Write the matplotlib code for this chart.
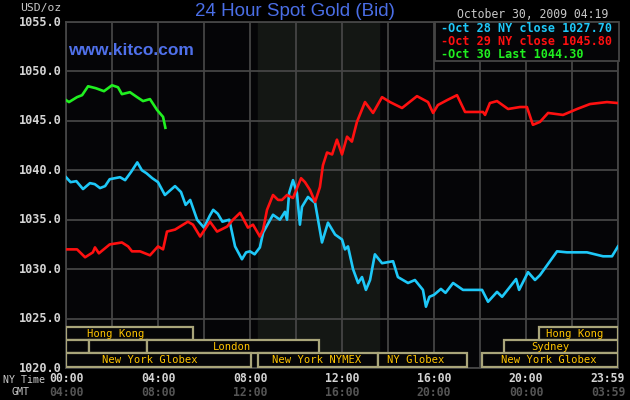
import matplotlib
matplotlib.use("Agg")
import matplotlib.pyplot as plt
from matplotlib.patches import Rectangle

# ---------------- data ----------------
oct28_hours = [0.0, 0.2, 0.45, 0.74, 1.04, 1.25, 1.48, 1.7, 1.9, 2.35, 2.57, 2.85, 3.1, 3.3, 3.5,
               3.75, 4.0, 4.3, 4.74, 5.0, 5.2, 5.4, 5.7, 6.0, 6.25, 6.4, 6.6, 6.8, 7.1, 7.35,
               7.65, 7.83, 8.0, 8.2, 8.43, 8.57, 9.0, 9.3, 9.52, 9.61, 9.7, 9.87, 10.04, 10.17,
               10.26, 10.52, 10.83, 11.13, 11.39, 11.7, 12.0, 12.13, 12.26, 12.48, 12.7, 12.87,
               13.04, 13.22, 13.43, 13.74, 14.22, 14.43, 14.87, 15.17, 15.52, 15.65, 15.8, 16.0,
               16.3, 16.5, 16.83, 17.26, 18.09, 18.35, 18.74, 18.96, 19.3, 19.57, 19.7, 20.09,
               20.39, 20.61, 21.35, 21.78, 22.04, 22.65, 23.35, 23.74, 24.0]
oct28_price = [1039.3, 1038.8, 1038.9, 1038.1, 1038.7, 1038.6, 1038.2, 1038.4, 1039.1, 1039.3,
               1039.0, 1039.9, 1040.8, 1040.0, 1039.7, 1039.2, 1038.8, 1037.5, 1038.4, 1037.8,
               1036.5, 1037.0, 1035.0, 1034.2, 1035.4, 1036.0, 1035.6, 1034.8, 1035.0, 1032.3,
               1031.0, 1031.7, 1031.8, 1031.5, 1032.2, 1033.7, 1035.5, 1035.0, 1035.8, 1035.0,
               1037.7, 1039.0, 1037.7, 1034.5, 1036.3, 1037.3, 1036.7, 1032.7, 1034.7, 1033.5,
               1033.0, 1032.0, 1032.3, 1030.0, 1028.6, 1029.2, 1027.9, 1028.9, 1031.5, 1030.6,
               1030.8, 1029.2, 1028.6, 1028.9, 1027.9, 1026.2, 1027.2, 1027.4, 1028.0, 1027.6,
               1028.6, 1027.9, 1027.9, 1026.7, 1027.7, 1027.2, 1028.2, 1029.0, 1027.9, 1029.7,
               1028.9, 1029.4, 1031.8, 1031.7, 1031.7, 1031.7, 1031.3, 1031.3, 1032.3]

oct29_hours = [0.0, 0.48, 0.83, 1.17, 1.26, 1.43, 1.9, 2.43, 2.7, 2.87, 3.22, 3.65, 4.0, 4.22,
               4.39, 4.74, 5.3, 5.52, 5.83, 6.26, 6.57, 7.0, 7.26, 7.57, 7.91, 8.13, 8.43, 8.57,
               8.74, 9.0, 9.22, 9.39, 9.61, 9.87, 10.22, 10.39, 10.61, 10.83, 11.04, 11.17, 11.35,
               11.57, 11.78, 12.0, 12.22, 12.43, 12.65, 13.0, 13.35, 13.74, 14.09, 14.61, 15.26,
               15.74, 15.96, 16.17, 16.57, 17.0, 17.35, 18.13, 18.22, 18.43, 18.74, 19.22, 19.74,
               20.04, 20.3, 20.61, 20.96, 21.61, 22.22, 22.78, 23.52, 24.0]
oct29_price = [1032.0, 1032.0, 1031.2, 1031.7, 1032.2, 1031.6, 1032.5, 1032.7, 1032.3, 1031.8,
               1031.8, 1031.4, 1032.3, 1032.0, 1033.8, 1034.0, 1034.8, 1034.5, 1033.3, 1034.8,
               1033.8, 1034.3, 1035.0, 1035.7, 1034.2, 1034.5, 1033.3, 1034.0, 1036.0, 1037.5,
               1037.0, 1037.0, 1037.5, 1037.2, 1039.2, 1038.8, 1038.0, 1036.8, 1038.3, 1040.5,
               1041.8, 1041.6, 1043.1, 1041.6, 1043.4, 1042.9, 1044.9, 1046.9, 1045.8, 1047.4,
               1046.9, 1046.3, 1047.5, 1046.9, 1045.8, 1046.6, 1047.1, 1047.6, 1045.9, 1045.9,
               1045.6, 1046.8, 1047.0, 1046.2, 1046.4, 1046.4, 1044.6, 1044.9, 1045.8, 1045.6,
               1046.2, 1046.7, 1046.9, 1046.8]

oct30_hours = [0.0, 0.13, 0.48, 0.7, 0.96, 1.3, 1.65, 2.0, 2.26, 2.43, 2.78, 3.09, 3.35, 3.65,
               3.96, 4.22, 4.32]
oct30_price = [1047.1, 1046.9, 1047.4, 1047.6, 1048.5, 1048.3, 1048.0, 1048.6, 1048.4, 1047.7,
               1047.9, 1047.4, 1047.0, 1047.2, 1046.1, 1045.4, 1044.3]

series_labels = ["-Oct 28 NY close 1027.70", "-Oct 29 NY close 1045.80", "-Oct 30 Last 1044.30"]

y_ticks = [1020.0, 1025.0, 1030.0, 1035.0, 1040.0, 1045.0, 1050.0, 1055.0]
x_ticks = [0, 4, 8, 12, 16, 20, 24]
ny_tick_labels = ["00:00", "04:00", "08:00", "12:00", "16:00", "20:00", "23:59"]
gmt_tick_labels = ["04:00", "08:00", "12:00", "16:00", "20:00", "00:00", "03:59"]

# market sessions: (row, start hour, end hour, label, label hour)
sessions = [
    (0, 0.0, 5.52, "Hong Kong", 2.15),
    (0, 20.57, 24.0, "Hong Kong", 22.1),
    (1, 0.0, 1.0, "", 0),
    (1, 1.0, 3.52, "", 0),
    (1, 3.52, 11.0, "London", 7.2),
    (1, 19.04, 24.0, "Sydney", 21.05),
    (2, 0.0, 8.04, "New York Globex", 3.65),
    (2, 8.35, 13.57, "New York NYMEX", 10.9),
    (2, 13.57, 17.43, "NY Globex", 15.2),
    (2, 18.09, 24.0, "New York Globex", 21.0),
]
nymex_start, nymex_end = 8.33, 13.6

# ---------------- figure ----------------
W, H = 630, 400
fig = plt.figure(figsize=(W / 100, H / 100), dpi=100, facecolor="black")


def fx(px):
    return px / W


def fy(py):
    return 1 - py / H


L, R, T, B = 66, 618, 22, 368
ax = fig.add_axes([fx(L), fy(B), fx(R) - fx(L), fy(T) - fy(B)])
ax.set_facecolor("#050507")
ax.set_xlim(0, 24)
ax.set_ylim(1020, 1055)

grid_c = "#454545"
for h in range(0, 25, 2):
    ax.axvline(h, color=grid_c, lw=1.3, zorder=1)
for v in y_ticks:
    ax.axhline(v, color=grid_c, lw=1.3, zorder=1)
ax.axvspan(nymex_start, nymex_end, color="#141714", zorder=0.5)

for s in ax.spines.values():
    s.set_color(grid_c)
    s.set_linewidth(1.3)
ax.set_xticks([])
ax.set_yticks([])

mono = "DejaVu Sans Mono"

# sessions
row_bounds = [(1022.8, 1024.15), (1021.5, 1022.8), (1020.15, 1021.5)]
box_c = "#a9a57a"
txt_c = "#ffc400"
for row, h0, h1, lab, lh in sessions:
    y0, y1 = row_bounds[row]
    ax.add_patch(Rectangle((h0, y0), h1 - h0, y1 - y0, facecolor="#050507",
                           edgecolor=box_c, lw=1.6, zorder=3))
    if lab:
        ax.text(lh, (y0 + y1) / 2 - 0.05, lab, color=txt_c, fontsize=7.6, family=mono,
                ha="center", va="center", zorder=4)

# lines
c_cyan, c_red, c_green = "#1ec8f8", "#ff1010", "#20f020"
ax.plot(oct28_hours, oct28_price, color=c_cyan, lw=1.9, zorder=5)
ax.plot(oct29_hours, oct29_price, color=c_red, lw=1.9, zorder=5)
ax.plot(oct30_hours, oct30_price, color=c_green, lw=1.9, zorder=5)

# legend box
fig.patches.append(Rectangle((fx(435), fy(61)), fx(619) - fx(435), fy(22) - fy(61),
                             transform=fig.transFigure, facecolor="#050507",
                             edgecolor=grid_c, lw=1.3, zorder=10))
for lab, col, py in zip(series_labels, [c_cyan, c_red, c_green], [29, 41.5, 54]):
    fig.text(fx(441), fy(py), lab, color=col, fontsize=8.5, family=mono, weight="bold",
             ha="left", va="center", zorder=11)

# y tick labels
for v in y_ticks:
    py = B - (v - 1020) / 35 * (B - T)
    fig.text(fx(62), fy(py), f"{v:.1f}", color="#d4d4d4", fontsize=8.6, family=mono,
             weight="bold", ha="right", va="center")
fig.text(fx(41), fy(8), "USD/oz", color="#c8c8c8", fontsize=8.2, family=mono,
         ha="center", va="center")

# x tick labels
for h, ny, gmt in zip(x_ticks, ny_tick_labels, gmt_tick_labels):
    px = L + h / 24 * (R - L)
    if h == 24:
        px = 608
    fig.text(fx(px), fy(378), ny, color="#d4d4d4", fontsize=8.3, family=mono,
             weight="bold", ha="center", va="center")
    fig.text(fx(px), fy(393), gmt, color="#555555", fontsize=8.3, family=mono,
             weight="bold", ha="center", va="center")
fig.text(fx(24), fy(380), "NY Time", color="#c8c8c8", fontsize=7.2, family=mono,
         ha="center", va="center")
fig.text(fx(20), fy(392), "GMT", color="#c8c8c8", fontsize=7.2, family=mono,
         ha="center", va="center")

# titles
fig.text(fx(295), fy(11), "24 Hour Spot Gold (Bid)", color="#4a6ee6", fontsize=13.5,
         family="Liberation Sans", ha="center", va="center")
fig.text(fx(68), fy(55), "www.kitco.com", color="#4f70ea", fontsize=12.5,
         family="Liberation Sans", weight="bold", ha="left", va="baseline")
fig.text(fx(608), fy(15), "October 30, 2009 04:19", color="#c8c8c8", fontsize=8.3,
         family=mono, ha="right", va="center")

fig.savefig("out.png", dpi=100, facecolor="black")
